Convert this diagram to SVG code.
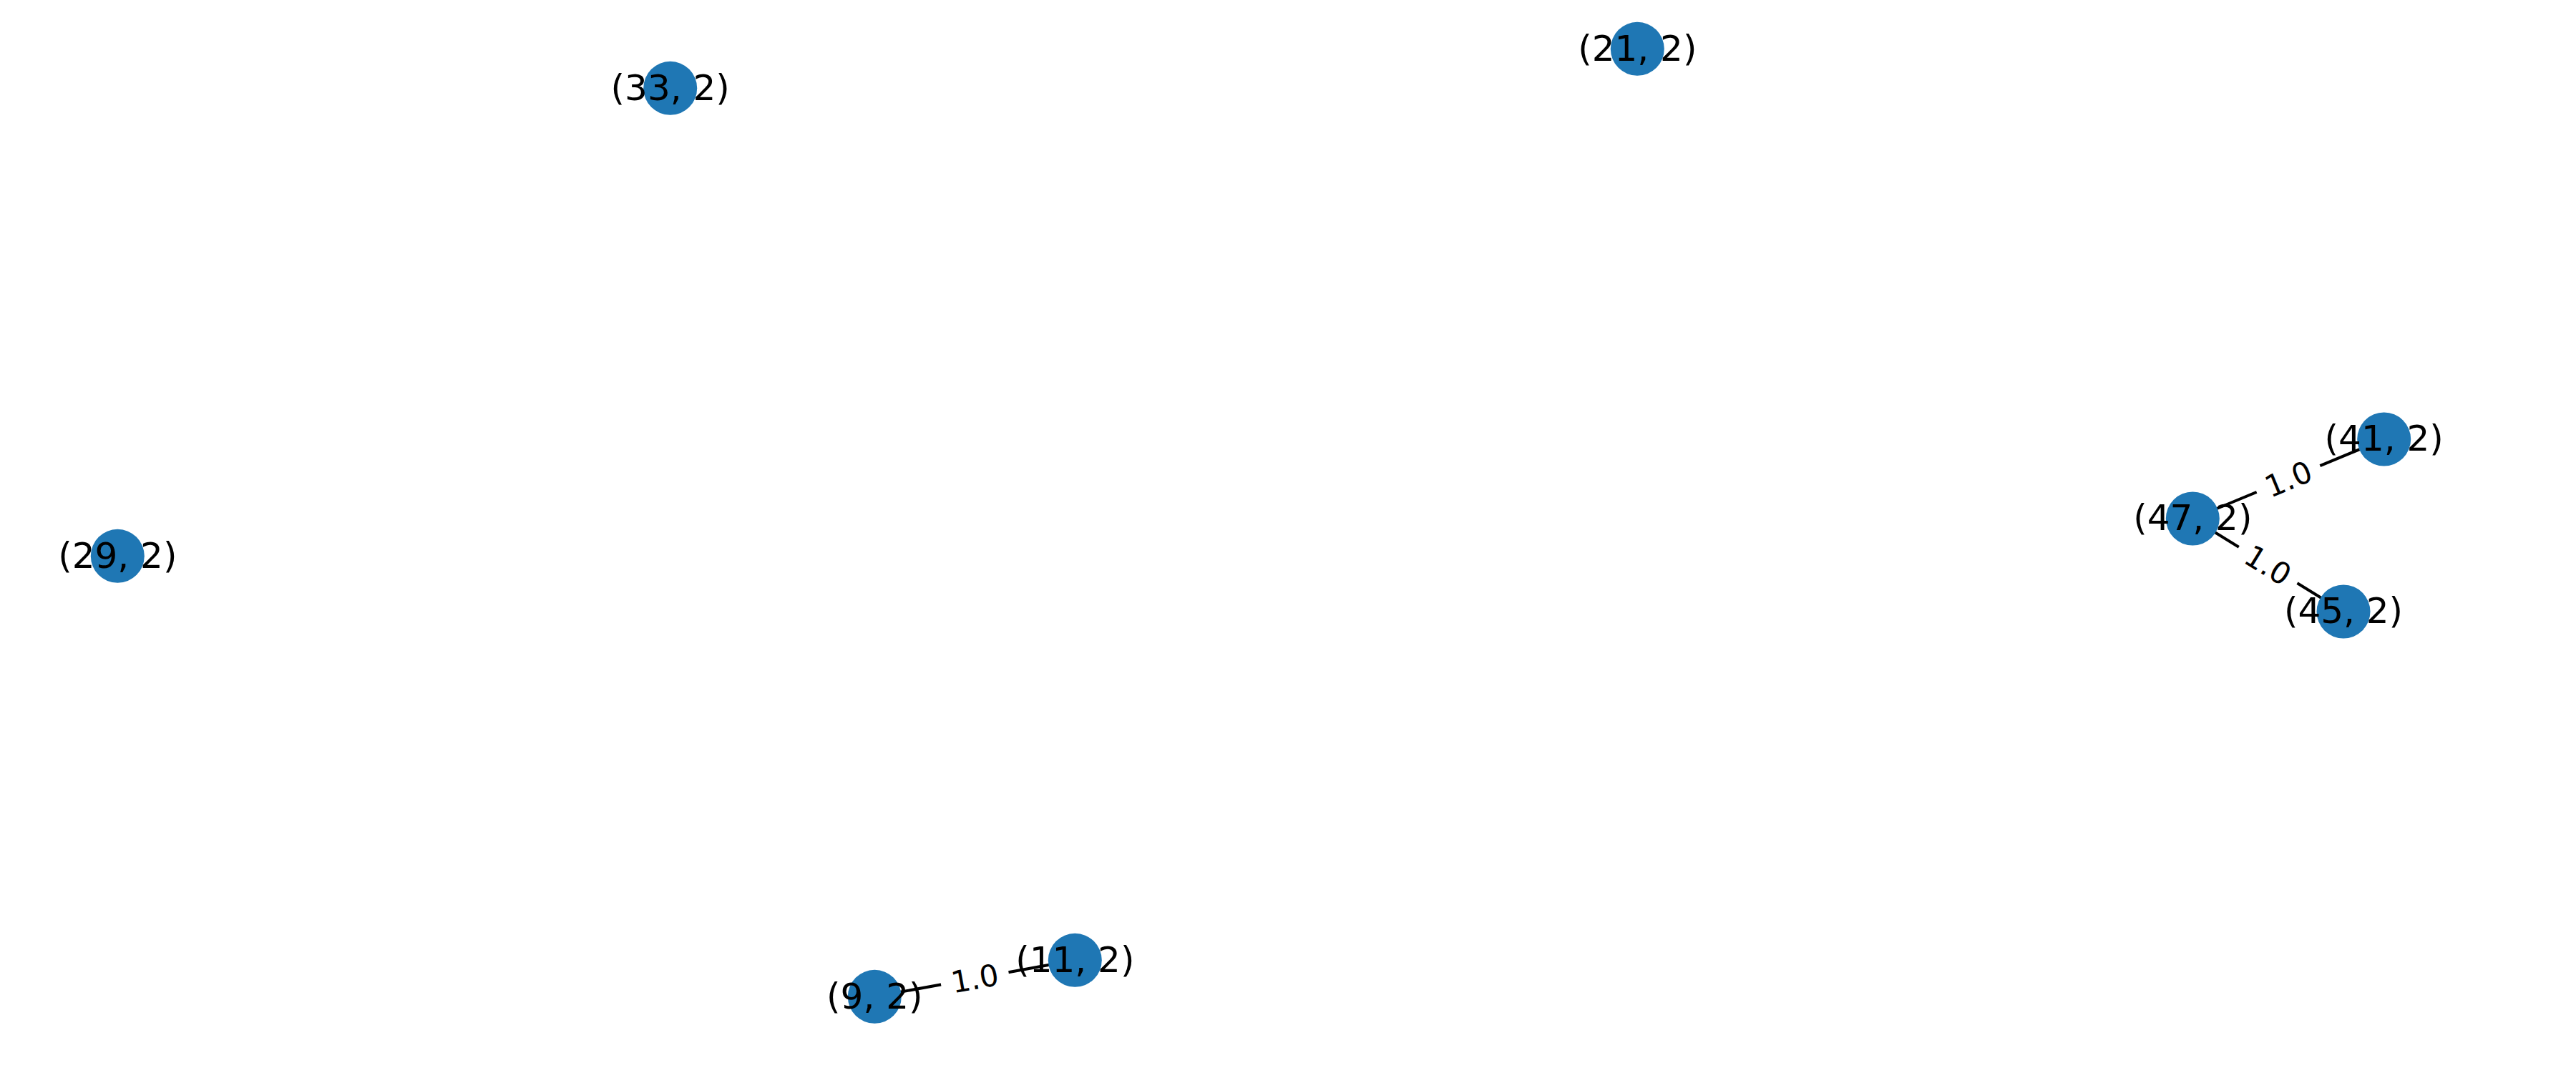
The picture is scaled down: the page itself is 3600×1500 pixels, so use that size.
<svg xmlns="http://www.w3.org/2000/svg" width="3600" height="1500" viewBox="0 0 3600 1500">
<style>
.node circle{fill:#1f77b4}
.nl{font-family:"DejaVu Sans",sans-serif;font-size:50px;fill:#000;text-anchor:middle}
.edge line{stroke:#000;stroke-width:4}
.el rect{fill:#fff}
.el text{font-family:"DejaVu Sans",sans-serif;font-size:42px;fill:#000;text-anchor:middle}
</style>
<rect width="3600" height="1500" fill="#fff"/>
<g id="connectors">
<g class="edge"><line x1="3064.3" y1="725" x2="3331.7" y2="614"/></g>
<g class="edge"><line x1="3064.3" y1="725" x2="3275" y2="855"/></g>
<g class="edge"><line x1="1222.3" y1="1393.3" x2="1502.3" y2="1342.3"/></g>
</g>
<g id="nodes">
<g id="n33" class="node"><circle cx="936.7" cy="123.3" r="37.5"/><text class="nl" x="936.7" y="139.5">(33, 2)</text></g>
<g id="n21" class="node"><circle cx="2288.3" cy="68.3" r="37.5"/><text class="nl" x="2288.3" y="84.5">(21, 2)</text></g>
<g id="n29" class="node"><circle cx="164.3" cy="777.3" r="37.5"/><text class="nl" x="164.3" y="793.5">(29, 2)</text></g>
<g id="n41" class="node"><circle cx="3331.7" cy="614" r="37.5"/><text class="nl" x="3331.7" y="630.2">(41, 2)</text></g>
<g id="n47" class="node"><circle cx="3064.3" cy="725" r="37.5"/><text class="nl" x="3064.3" y="741.2">(47, 2)</text></g>
<g id="n45" class="node"><circle cx="3275" cy="855" r="37.5"/><text class="nl" x="3275" y="871.2">(45, 2)</text></g>
<g id="n11" class="node"><circle cx="1502.3" cy="1342.3" r="37.5"/><text class="nl" x="1502.3" y="1358.5">(11, 2)</text></g>
<g id="n9" class="node"><circle cx="1222.3" cy="1393.3" r="37.5"/><text class="nl" x="1222.3" y="1409.5">(9, 2)</text></g>
</g>
<g id="edge-labels">
<g class="el" transform="translate(3198,669.5) rotate(-22.5)"><rect x="-48" y="-28" width="96" height="56" rx="8"/><text x="0" y="15">1.0</text></g>
<g class="el" transform="translate(3169.6,790) rotate(31.6)"><rect x="-48" y="-28" width="96" height="56" rx="8"/><text x="0" y="15">1.0</text></g>
<g class="el" transform="translate(1362.3,1367.8) rotate(-10.3)"><rect x="-48" y="-28" width="96" height="56" rx="8"/><text x="0" y="15">1.0</text></g>
</g>
</svg>
